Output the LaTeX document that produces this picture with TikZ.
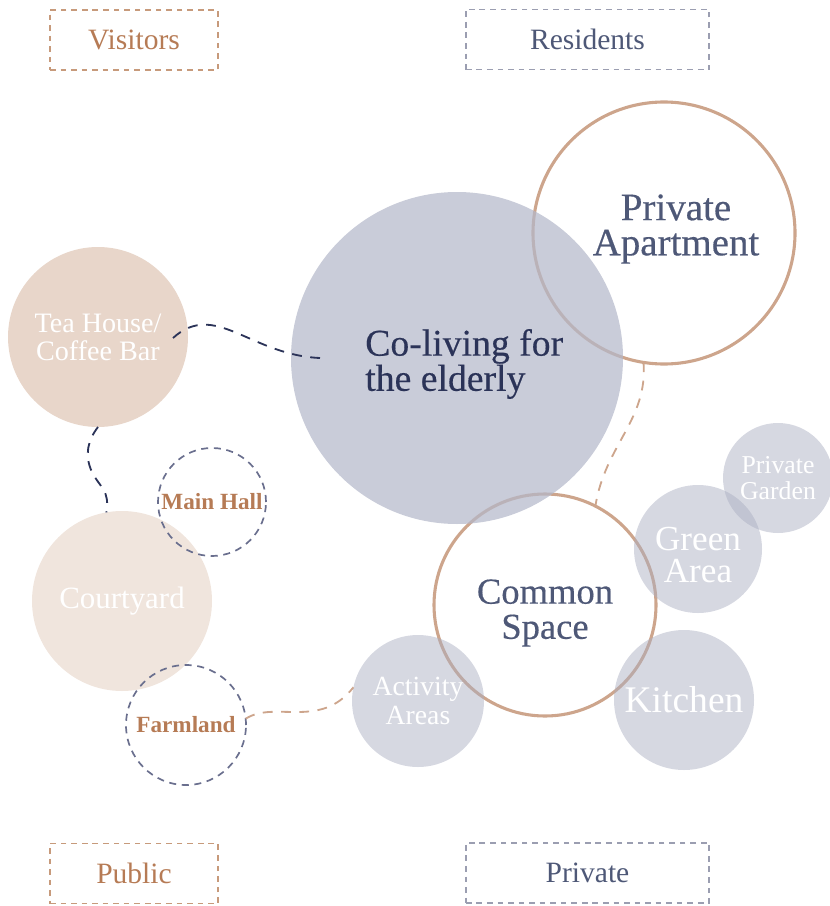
\documentclass[tikz,border=0pt]{standalone}
\usepackage{fontspec}
\setmainfont{Liberation Serif}
\usetikzlibrary{calc}

\definecolor{tanline}{HTML}{CDA58C}
\definecolor{tantext}{HTML}{B67B55}
\definecolor{slate}{HTML}{4E5877}
\definecolor{navy}{HTML}{2B3358}
\definecolor{mist}{HTML}{B4B8CA}
\definecolor{haze}{HTML}{AAAEC1}
\definecolor{sand}{HTML}{E8D6CA}
\definecolor{shell}{HTML}{F0E5DD}
\definecolor{dashblue}{HTML}{6A6F8E}
\definecolor{boxgray}{HTML}{9B9EB1}
\definecolor{boxtan}{HTML}{C79A7B}

\tikzset{
  bubble/.style={
    circle, inner sep=0pt, outer sep=0pt,
    minimum size=#1*0.025cm, align=center
  },
  softzone/.style={
    bubble=#1, fill=haze, fill opacity=0.48,
    text opacity=1, text=white
  },
  warmzone/.style={
    bubble=#1, text=white
  },
  ringzone/.style={
    bubble=#1, draw=tanline, line width=2.2pt
  },
  hallzone/.style={
    bubble=#1, draw=dashblue, line width=1.2pt,
    dash pattern=on 5pt off 4pt, text=tantext,
    font=\fontsize{16.5}{18}\selectfont\bfseries
  },
  title/.style={
    text opacity=1, align=center,
    font=\fontsize{#1}{25}\selectfont\addfontfeature{FakeBold=0.4}
  },
  tagbox/.style={
    rectangle, draw=#1, line width=1.3pt,
    dash pattern=on 4pt off 3.5pt,
    minimum height=1.5cm, font=\fontsize{21}{23}\selectfont
  },
  link/.style={draw=#1, line width=1.3pt, dash pattern=on 7pt off 6pt},
}

\begin{document}
\begin{tikzpicture}[x=0.025cm, y=-0.025cm]
  \useasboundingbox (0,0) rectangle (829,906);

  % zone tags
  \node[tagbox=boxtan, text=tantext, minimum width=4.2cm] (visitors) at (134,40) {Visitors};
  \node[tagbox=boxgray, text=slate, minimum width=6.08cm] (residents) at (587.5,39.5) {Residents};
  \node[tagbox=boxtan, text=tantext, minimum width=4.2cm] (public) at (134,873.5) {Public};
  \node[tagbox=boxgray, text=slate, minimum width=6.08cm] (private) at (587.5,873) {Private};

  % outlined rooms
  \node[ringzone=262,
        label={[title=27.7, text=slate, xshift=0.3cm, yshift=0.1cm]center:Private\\Apartment}]
        (apartment) at (664,233) {};
  \node[ringzone=222,
        label={[title=26, text=slate, yshift=-0.2cm]center:Common\\Space}]
        (common) at (545,605) {};

  % core
  \node[bubble=332, fill=mist, fill opacity=0.72,
        label={[title=26.8, text=navy, align=left, xshift=0.18cm, yshift=-0.15cm]center:Co-living for\\the elderly}]
        (coliving) at (457,358) {};

  % resident rooms
  \node[softzone=132, font=\fontsize{19.7}{20.6}\selectfont] (activity) at (418,701) {Activity\\Areas};
  \node[softzone=128,
        label={[text=white, text opacity=1, align=center, yshift=-0.15cm,
                font=\fontsize{25}{22.8}\selectfont]center:Green\\Area}]
        (green) at (698,549) {};
  \node[softzone=110, font=\fontsize{18.3}{18.5}\selectfont] (garden) at (778,478) {Private\\Garden};
  \node[softzone=140, font=\fontsize{26.7}{28}\selectfont] (kitchen) at (684,700) {Kitchen};

  % visitor rooms
  \node[warmzone=180, fill=sand, font=\fontsize{20}{20}\selectfont] (tea) at (98,337) {Tea House/\\Coffee Bar};
  \node[warmzone=180, fill=shell, font=\fontsize{22}{24}\selectfont] (court) at (122,601) {Courtyard};
  \node[hallzone=108] (hall) at (212,502) {Main Hall};
  \node[hallzone=120] (farm) at (186,725) {Farmland};

  % links
  \draw[link=navy] ($(tea)+(75,1)$) .. controls (215,300) and (250,355) .. ($(coliving)+(-137,0)$);
  \draw[link=navy] (tea.south) .. controls (88,440) and (84,455) .. (92,472)
    .. controls (100,488) and (110,490) .. (court.100);
  \draw[link=tanline] (farm.6) .. controls (275,700) and (320,730) .. (activity.168);
  \draw[link=tanline] (apartment.261) .. controls (648,420) and (605,445) .. (common.63);
\end{tikzpicture}
\end{document}
